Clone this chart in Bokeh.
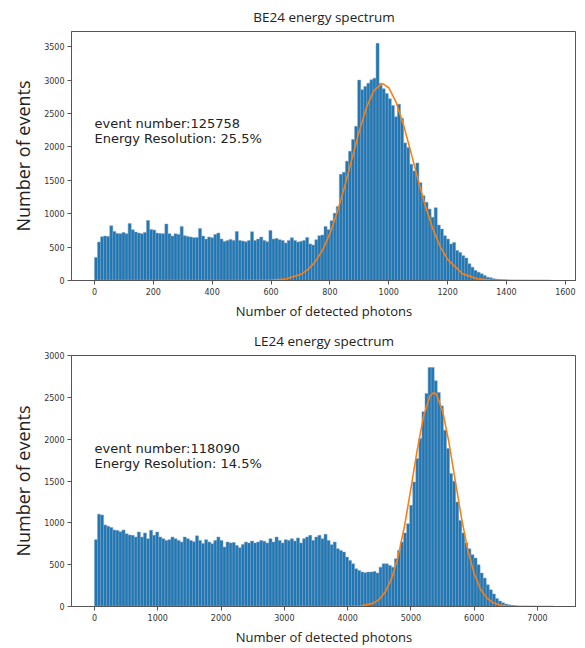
import numpy as np
from bokeh.plotting import figure
from bokeh.layouts import column
from bokeh.models import FixedTicker, Range1d, ColumnDataSource, Label
from bokeh.embed import file_html
from bokeh.resources import INLINE

# ---------------- BE24 data ----------------
be_title = "BE24 energy spectrum"
be_range = [0, 1560]
be_counts = [
    345, 575, 655, 665, 660, 820, 735, 705, 700, 720,
    700, 855, 760, 725, 710, 700, 720, 900, 765, 755,
    710, 705, 700, 845, 700, 665, 700, 690, 810, 670,
    660, 650, 640, 645, 780, 665, 620, 650, 640, 690,
    710, 620, 585, 600, 615, 600, 735, 600, 590, 580,
    600, 730, 600, 620, 650, 600, 580, 750, 620, 630,
    610, 600, 560, 600, 640, 600, 575, 586, 600, 645,
    546, 531, 611, 670, 680, 809, 760, 894, 1008, 1107,
    1589, 1620, 1787, 1936, 2110, 2308, 3000, 2855, 2905, 2954,
    3004, 3029, 3550, 2950, 2870, 2800, 2720, 2620, 2450, 2640,
    2430, 2060, 1990, 1740, 1640, 1760, 1465, 1270, 1170, 1070,
    945, 1090, 830, 770, 670, 620, 545, 570, 450, 420,
    370, 335, 250, 200, 150, 125, 100, 75, 50, 40,
    25, 20, 15, 12, 10, 8, 6, 5, 4, 3,
    3, 2, 2, 1, 1, 1, 0, 1, 0, 1,
]
be_fit_x = [0, 500, 600, 650, 700, 725, 750, 775, 800, 825, 850, 875, 900, 925, 950,
            978, 1000, 1025, 1050, 1075, 1100, 1125, 1150, 1175, 1200, 1250, 1300,
            1350, 1400, 1450, 1550]
be_fit_y = [0, 0, 5, 22, 89, 162, 279, 455, 701, 1020, 1403, 1823, 2238, 2597, 2847,
            2950, 2886, 2670, 2332, 1925, 1502, 1107, 771, 508, 316, 103, 27,
            6, 1, 0, 0]
be_xticks = [0, 200, 400, 600, 800, 1000, 1200, 1400, 1600]
be_yticks = [0, 500, 1000, 1500, 2000, 2500, 3000, 3500]
be_text = ["event number:125758", "Energy Resolution: 25.5%"]
be_text_y = [2353, 2130]

# ---------------- LE24 data ----------------
le_title = "LE24 energy spectrum"
le_range = [0, 7253]
le_counts = [
    800, 1105, 1095, 975, 960, 945, 915, 910, 895, 915,
    870, 855, 851, 831, 891, 831, 880, 811, 911, 851,
    891, 831, 811, 791, 800, 831, 811, 791, 771, 831,
    811, 791, 775, 845, 791, 755, 799, 771, 751, 790,
    831, 790, 711, 771, 760, 765, 731, 703, 743, 771,
    760, 783, 760, 771, 791, 780, 760, 811, 771, 831,
    791, 760, 799, 791, 811, 783, 820, 760, 811, 831,
    851, 791, 831, 851, 811, 865, 791, 739, 771, 691,
    671, 651, 591, 551, 511, 451, 431, 412, 404, 412,
    412, 419, 400, 471, 511, 511, 491, 471, 571, 671,
    771, 880, 991, 1211, 1490, 1770, 2010, 2329, 2549, 2860,
    2860, 2700, 2560, 2400, 2109, 1890, 1590, 1500, 1250, 1030,
    880, 760, 690, 620, 580, 500, 400, 340, 260, 200,
    150, 95, 65, 45, 30, 20, 14, 10, 7, 5,
    4, 3, 2, 2, 1, 1, 1, 0, 0, 1,
]
le_fit_x = [0, 3500, 4000, 4200, 4400, 4500, 4600, 4700, 4800, 4900, 5000, 5100,
            5200, 5300, 5360, 5400, 5500, 5600, 5700, 5800, 5900, 6000, 6100,
            6200, 6300, 6400, 6600, 6800, 7250]
le_fit_y = [0, 0, 1, 5, 37, 86, 180, 346, 606, 969, 1412, 1876,
            2276, 2518, 2560, 2541, 2340, 1965, 1506, 1052, 671, 391, 207,
            100, 44, 18, 2, 0, 0]
le_xticks = [0, 1000, 2000, 3000, 4000, 5000, 6000, 7000]
le_yticks = [0, 500, 1000, 1500, 2000, 2500, 3000]
le_text = ["event number:118090", "Energy Resolution: 14.5%"]
le_text_y = [1890, 1710]

x_label = "Number of detected photons"
y_label = "Number of events"

BAR = "#1f77b4"
FIT = "#ff7f0e"


def make(title, counts, rng, fit_x, fit_y, xticks, yticks, texts, text_y,
         width, height, top_border, bottom_border, title_standoff):
    n = len(counts)
    edges = np.linspace(rng[0], rng[1], n + 1)
    span = rng[1] - rng[0]
    ymax = max(counts) * 1.05
    p = figure(width=width, height=height, output_backend="svg",
               toolbar_location=None,
               x_range=Range1d(rng[0] - 0.05 * span, rng[1] + 0.05 * span),
               y_range=Range1d(0, ymax),
               min_border_left=71, min_border_right=0,
               min_border_top=top_border, min_border_bottom=bottom_border,
               title=title)
    p.title.align = "center"
    p.title.text_font = "Open Sans"
    p.title.text_font_size = "13.5px"
    p.title.text_font_style = "normal"
    p.title.text_color = "#222222"
    p.title.standoff = title_standoff

    src = ColumnDataSource(dict(left=edges[:-1], right=edges[1:],
                                top=counts, bottom=[0] * n))
    p.quad(left="left", right="right", top="top", bottom="bottom", source=src,
           fill_color=BAR, line_color="#7f9fbf", line_width=0.5)
    p.line(fit_x, fit_y, line_color=FIT, line_width=1.6)

    for t, ty in zip(texts, text_y):
        p.add_layout(Label(x=0, y=ty, text=t, text_font="DejaVu Sans",
                           text_font_size="13px", text_color="#222222",
                           text_baseline="alphabetic", text_align="left"))

    p.xgrid.grid_line_color = None
    p.ygrid.grid_line_color = None
    p.outline_line_color = "#555555"
    p.outline_line_width = 1

    for ax, ticks in ((p.xaxis, xticks), (p.yaxis, yticks)):
        ax.ticker = FixedTicker(ticks=ticks)
        ax.major_label_text_font = "DejaVu Sans"
        ax.major_label_text_font_size = "8px"
        ax.major_label_text_color = "#333333"
        ax.axis_line_color = "#555555"
        ax.major_tick_line_color = "#555555"
        ax.major_tick_in = 0
        ax.major_tick_out = 4
        ax.minor_tick_line_color = None
        ax.major_label_standoff = 3
        ax.axis_label_text_font = "Open Sans"
        ax.axis_label_text_font_style = "normal"
        ax.axis_label_text_color = "#222222"

    p.xaxis.axis_label = x_label
    p.xaxis.axis_label_text_font_size = "13px"
    p.xaxis.axis_label_standoff = 4
    p.yaxis.axis_label = y_label
    p.yaxis.axis_label_text_font_size = "18px"
    p.yaxis.axis_label_standoff = 6
    return p


p1 = make(be_title, be_counts, be_range, be_fit_x, be_fit_y, be_xticks,
          be_yticks, be_text, be_text_y, 576, 324, 31, 44, 11)
p2 = make(le_title, le_counts, le_range, le_fit_x, le_fit_y, le_xticks,
          le_yticks, le_text, le_text_y, 576, 324, 31, 42, 11)

layout = column(p1, p2, spacing=0)
open("out.html", "w").write(file_html(layout, INLINE))
